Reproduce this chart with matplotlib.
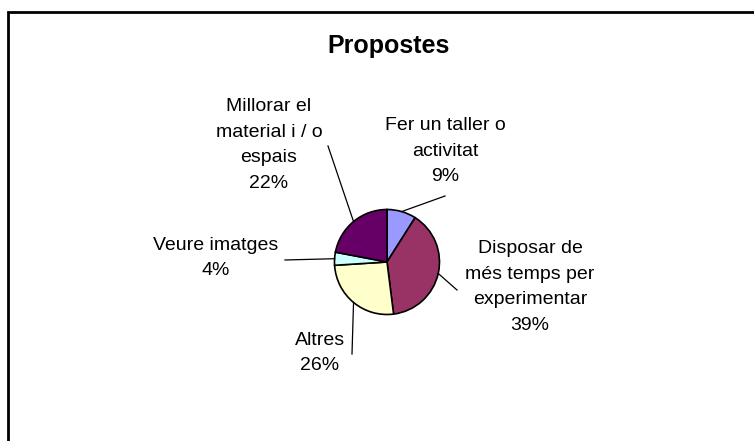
import numpy as np
import matplotlib.pyplot as plt
from matplotlib.patches import Rectangle

# slices, clockwise from 12 o'clock
labels = ['Fer un taller o\nactivitat', 'Disposar de\nmés temps per\nexperimentar',
          'Altres', 'Veure imatges', 'Millorar el\nmaterial i / o\nespais']
values = [9, 39, 26, 4, 22]
colors = ['#9999FF', '#993366', '#FFFFCC', '#CCFFFF', '#660066']

# where each label block sits (pixel coords, y measured from the top)
label_xy = [(445, 151), (530, 287), (320, 353), (216, 258), (269, 145)]
# where each leader line stops next to its label
leader_end = [(445, 196), (457, 290), (352, 354), (285, 260), (328, 146)]

W, H = 754, 441
cx, cy, r = 387, 262, 52.5

plt.rcParams['font.family'] = ['Liberation Sans', 'DejaVu Sans']
fig = plt.figure(figsize=(W / 100, H / 100), dpi=100)
ax = fig.add_axes([0, 0, 1, 1])

# outer chart frame
ax.add_patch(Rectangle((8, -10), W + 20, H - 12 + 10, fill=False, lw=2, ec='black'))

wedges, _ = ax.pie(values, colors=colors, startangle=90, counterclock=False,
                   center=(cx, H - cy), radius=r, frame=True,
                   wedgeprops=dict(edgecolor='black', linewidth=1.2))
ax.set_xlim(0, W)
ax.set_ylim(0, H)
ax.set_aspect('equal')
ax.axis('off')

ax.text(389, H - 53, 'Propostes', ha='center', va='baseline', fontsize=18, fontweight='bold')

total = sum(values)
for w, lab, v, (lx, ly), (ex, ey) in zip(wedges, labels, values, label_xy, leader_end):
    mid = np.deg2rad((w.theta1 + w.theta2) / 2)
    px = cx + r * np.cos(mid)
    py = (H - cy) + r * np.sin(mid)
    ax.plot([px, ex], [py, H - ey], color='black', lw=0.9)
    ax.text(lx, H - ly, f'{lab}\n{round(100 * v / total)}%', ha='center', va='center',
            fontsize=14, linespacing=1.68)

fig.savefig('out.png', dpi=100)
